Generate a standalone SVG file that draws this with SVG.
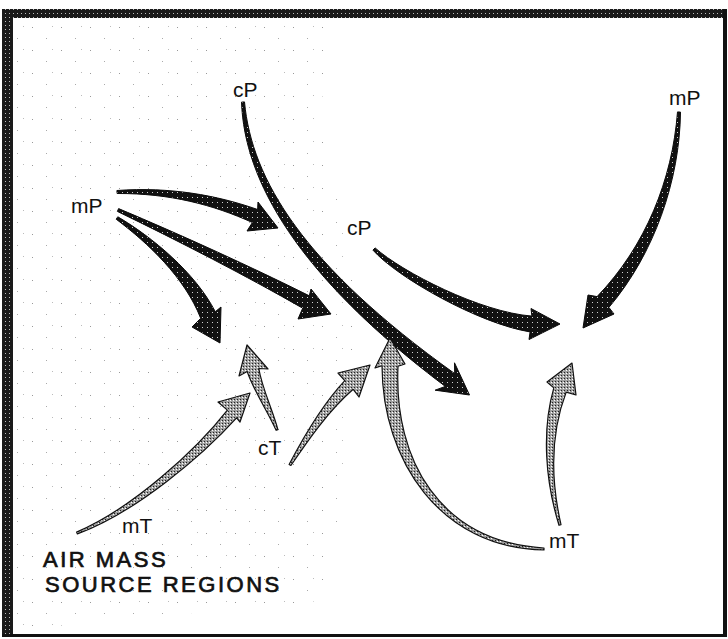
<svg xmlns="http://www.w3.org/2000/svg" width="728" height="639" viewBox="0 0 728 639">
<style>
.lbl{font-family:"Liberation Sans",Arial,sans-serif;font-size:21px;fill:#111}
.ttl{font-family:"Liberation Sans",Arial,sans-serif;font-size:22px;letter-spacing:2.5px;fill:#111;stroke:#111;stroke-width:0.7}
.blk{fill:url(#dk);stroke:#0a0a0a;stroke-width:1}
.gry{fill:url(#gr);stroke:#111;stroke-width:1.2;stroke-linejoin:round}
</style>
<defs>
<pattern id="dk" width="5" height="5" patternUnits="userSpaceOnUse"><rect width="5" height="5" fill="#111"/><rect x="2" y="2" width="1" height="1" fill="#cfcfcf"/></pattern>
<pattern id="gr" width="3" height="3" patternUnits="userSpaceOnUse"><rect width="3" height="3" fill="#a0a0a0"/><rect width="1" height="1" fill="#222"/><rect x="2" y="1" width="1" height="1" fill="#fff"/></pattern>
<pattern id="bd" width="4" height="4" patternUnits="userSpaceOnUse"><rect width="4" height="4" fill="#1a1a1a"/><rect x="1" y="1" width="1" height="1" fill="#bbb"/></pattern>
<pattern id="dots" width="29" height="23" patternUnits="userSpaceOnUse"><rect x="3" y="4" width="1" height="1" fill="#999"/><rect x="17" y="15" width="1" height="1" fill="#aaa"/><rect x="23" y="3" width="1" height="1" fill="#bbb"/></pattern>
</defs>
<rect width="728" height="639" fill="#fff"/>
<g id="stipple">
<path d="M14,20 L330,20 L320,120 L360,300 L330,600 L14,630 Z" fill="url(#dots)"/>
</g>
<g id="frame">
<rect x="2" y="9" width="725" height="9" fill="url(#bd)"/>
<rect x="2" y="9" width="11" height="628" fill="url(#bd)"/>
<rect x="723" y="9" width="4" height="628" fill="#111"/>
<rect x="2" y="634" width="725" height="3" fill="#111"/>
</g>
<g id="connectors">
<path id="a-cP1" class="blk" d="M241.5,102.1 C244.3,180.2 296.6,274.7 445.3,386.4 L435.1,390.2 L469.5,395 L454.5,362.8 L454.7,373.6 C303.4,265.3 251.7,179.8 244.5,101.9 Z"/>
<path id="a-mP1" class="blk" d="M117.1,193.5 C170.1,193.3 213.1,204.8 252.4,222.5 L247,231 L278,228 L258,202 L257.6,209.5 C216.9,195.2 169.9,186.7 116.9,190.5 Z"/>
<path id="a-mP2" class="blk" d="M117.4,211.4 C178.6,241.0 247.6,276.6 302.7,308.2 L298,319 L331,314 L311,289 L309.3,295.8 C252.4,267.4 181.4,235.0 118.6,208.6 Z"/>
<path id="a-mP3" class="blk" d="M116.2,219.2 C148.0,243.1 184.7,277.4 200.7,318.3 L192,327 L220,343 L221,307 L215.3,311.7 C195.3,272.6 152.0,236.9 117.8,216.8 Z"/>
<path id="a-cP2" class="blk" d="M372.9,250.1 C397.4,277.6 479.3,323.8 530.1,331.9 L529,339.5 L560,324 L531,308.5 L531.9,316.1 C480.7,312.2 402.6,272.4 375.1,247.9 Z"/>
<path id="a-mP4" class="blk" d="M677.5,111.9 C672.3,179.8 645.7,246.1 597.1,296.6 L588,295 L583,328 L614,314 L608.9,307.4 C654.3,253.9 679.7,180.2 680.5,112.1 Z"/>
<path id="a-mT1" class="gry" d="M77.4,533.9 C136.0,512.5 203.3,454.8 236.6,417.9 L240,422 L250,393 L218,402 L227.4,410.1 C196.7,449.2 134.0,507.5 76.6,532.1 Z"/>
<path id="a-cT1" class="gry" d="M277.9,429.7 C272.5,409.1 262.2,389.0 258.8,368.5 L268,369 L247,345 L239,376 L247.2,371.5 C253.8,391.1 267.5,410.9 276.1,430.3 Z"/>
<path id="a-cT2" class="gry" d="M290.9,465.5 C307.3,441.4 328.0,411.1 353.2,389.3 L359,397 L370,365 L338,373 L344.8,380.7 C322.0,404.9 302.7,438.6 289.1,464.5 Z"/>
<path id="a-mT2" class="gry" d="M544.0,548.0 C440.1,541.7 393.7,460.1 398.0,366.2 L405,364 L390,338 L375,368 L382.0,365.8 C382.3,459.9 439.9,548.3 544.0,550.0 Z"/>
<path id="a-mT3" class="gry" d="M561.0,524.7 C550.7,479.3 550.4,433.5 566.2,392.1 L576,395 L572,363 L547,382 L553.8,387.9 C541.6,430.5 545.3,480.7 559.0,525.3 Z"/>
</g>
<g id="n-cP-top"><text class="lbl" x="233" y="97">cP</text></g>
<g id="n-mP-left"><text class="lbl" x="71" y="213">mP</text></g>
<g id="n-cP-mid"><text class="lbl" x="347" y="235">cP</text></g>
<g id="n-mP-right"><text class="lbl" x="669" y="105">mP</text></g>
<g id="n-cT"><text class="lbl" x="258" y="455">cT</text></g>
<g id="n-mT-left"><text class="lbl" x="122" y="533">mT</text></g>
<g id="n-mT-right"><text class="lbl" x="549" y="548">mT</text></g>
<g id="title">
<text class="ttl" x="43" y="567">AIR MASS</text>
<text class="ttl" x="45" y="592">SOURCE REGIONS</text>
</g>
</svg>
